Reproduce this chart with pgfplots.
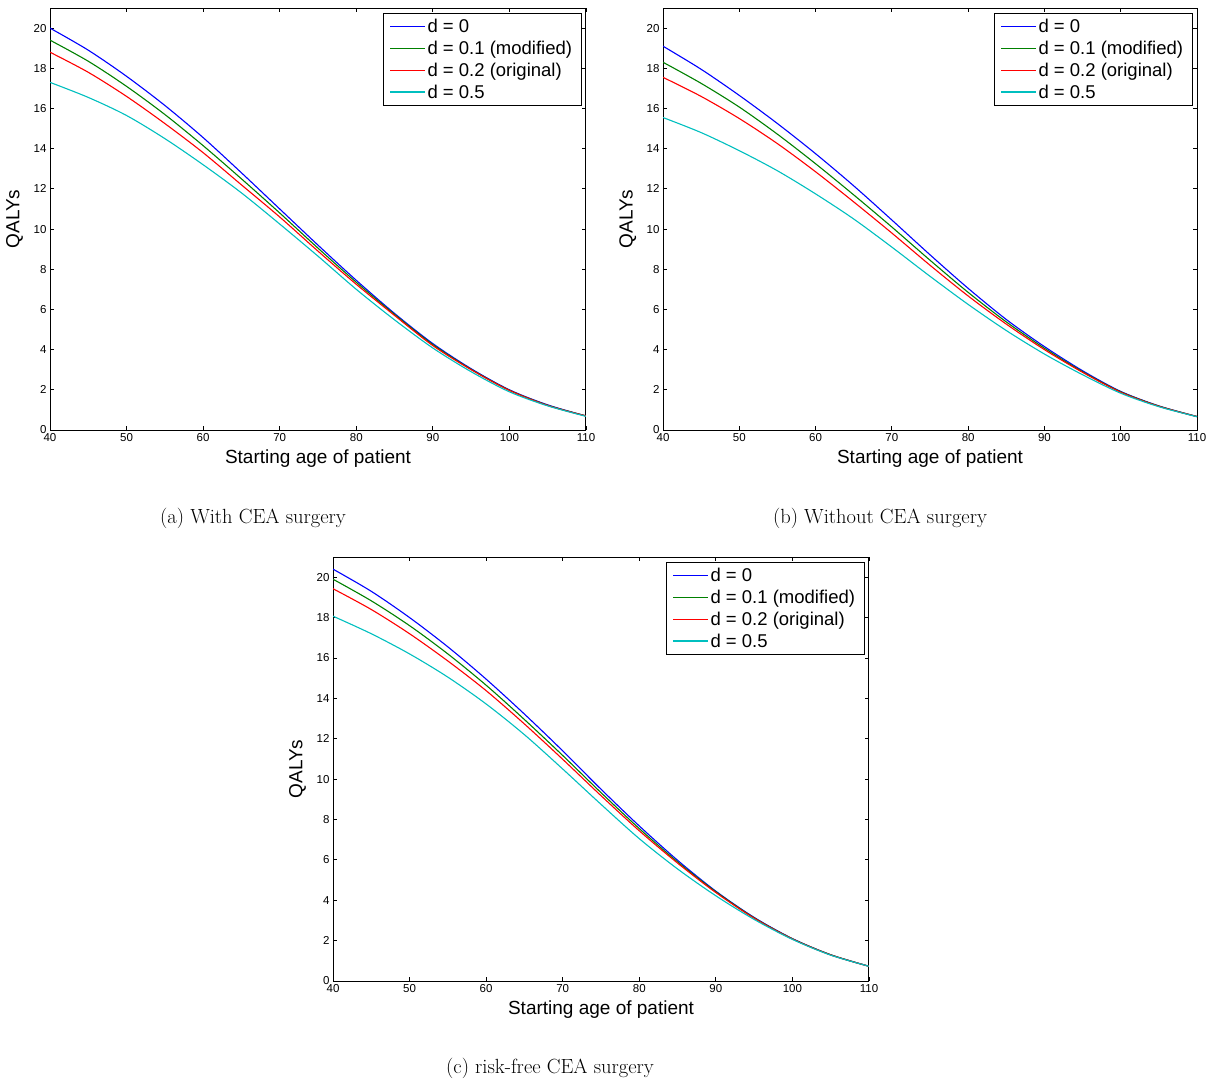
\documentclass[border=0pt]{standalone}
\usepackage{fontspec}
\usepackage{pgfplots}
\usepackage{pgfplotstable}
\pgfplotsset{compat=1.18}
\newfontfamily\arial{Liberation Sans}
\definecolor{mblue}{rgb}{0,0,1}
\definecolor{mgreen}{rgb}{0,0.5,0}
\definecolor{mred}{rgb}{1,0,0}
\definecolor{mcyan}{rgb}{0,0.75,0.75}

\pgfplotstableread{
x d0 d1 d2 d5
40 20.0 19.4 18.8 17.3
45 18.9 18.35 17.8 16.55
50 17.6 17.1 16.6 15.65
55 16.15 15.7 15.25 14.5
60 14.55 14.15 13.8 13.2
65 12.8 12.5 12.2 11.8
70 11.0 10.8 10.6 10.25
75 9.2 9.05 8.9 8.65
80 7.45 7.35 7.25 7.0
85 5.8 5.75 5.7 5.48
90 4.3 4.25 4.2 4.08
95 3.05 3.02 3.0 2.9
100 2.0 1.98 1.97 1.9
105 1.25 1.23 1.22 1.2
110 0.7 0.7 0.7 0.68
}\tabA

\pgfplotstableread{
x d0 d1 d2 d5
40 19.1 18.3 17.55 15.55
45 17.95 17.25 16.6 14.8
50 16.65 16.07 15.5 13.9
55 15.25 14.72 14.25 12.9
60 13.75 13.25 12.85 11.75
65 12.15 11.7 11.35 10.5
70 10.45 10.1 9.8 9.1
75 8.72 8.45 8.2 7.65
80 7.05 6.85 6.67 6.25
85 5.5 5.38 5.27 4.95
90 4.15 4.07 4.0 3.78
95 2.95 2.9 2.87 2.75
100 1.92 1.9 1.88 1.83
105 1.2 1.19 1.18 1.16
110 0.67 0.67 0.67 0.66
}\tabB

\pgfplotstableread{
x d0 d1 d2 d5
40 20.4 19.9 19.43 18.07
45 19.3 18.83 18.4 17.2
50 18.0 17.6 17.2 16.2
55 16.55 16.2 15.85 15.05
60 14.95 14.65 14.38 13.72
65 13.22 12.95 12.73 12.2
70 11.4 11.17 10.98 10.5
75 9.5 9.33 9.18 8.75
80 7.68 7.55 7.44 7.05
85 5.98 5.9 5.84 5.55
90 4.45 4.42 4.38 4.22
95 3.15 3.13 3.11 3.05
100 2.1 2.09 2.08 2.06
105 1.3 1.3 1.29 1.28
110 0.73 0.73 0.73 0.73
}\tabC

\pgfplotsset{
  legend image code/.code={\fill[#1, draw=none] (0pt,-0.75pt) rectangle (35pt,0.75pt);},
  mstyle/.style={
    scale only axis,
    anchor=south west,
    xmin=40, xmax=110, ymin=0, ymax=21,
    xtick={40,50,...,110}, ytick={0,2,...,20},
    tick align=inside,
    major tick length=4pt,
    axis line style={line width=1pt},
    every tick/.style={black, line width=0.8pt},
    tick label style={font=\fontsize{11.5}{13}\arial},
    /pgf/number format/assume math mode=true,
    xlabel={Starting age of patient},
    ylabel={QALYs},
    label style={font=\fontsize{19}{22}\arial},
    xlabel style={at={(axis description cs:0.5,-0.068)}, anchor=center},
    ylabel style={at={(axis description cs:-0.066,0.5)}, anchor=center},
    legend cell align=left,
    legend style={
      at={(rel axis cs:0.9925,0.988)}, anchor=north east,
      font=\fontsize{18.5}{20}\arial,
      draw=black, line width=0.9pt,
      row sep=7pt, inner xsep=7pt, inner ysep=5.5pt,
      nodes={inner xsep=2.5pt, inner ysep=0pt},
    },
  },
  pl/.style={line width=1.1pt, smooth},
}

\begin{document}
\begin{tikzpicture}
\path[use as bounding box] (0pt,0pt) rectangle (1216pt,-1085pt);

\begin{axis}[mstyle, at={(50pt,-430pt)}, width=536pt, height=422pt]
\addplot[pl, mblue] table[x=x,y=d0]{\tabA};
\addplot[pl, mgreen] table[x=x,y=d1]{\tabA};
\addplot[pl, mred] table[x=x,y=d2]{\tabA};
\addplot[pl, mcyan] table[x=x,y=d5]{\tabA};
\legend{d = 0, d = 0.1 (modified), d = 0.2 (original), d = 0.5}
\end{axis}

\begin{axis}[mstyle, at={(663pt,-430pt)}, width=534pt, height=422pt]
\addplot[pl, mblue] table[x=x,y=d0]{\tabB};
\addplot[pl, mgreen] table[x=x,y=d1]{\tabB};
\addplot[pl, mred] table[x=x,y=d2]{\tabB};
\addplot[pl, mcyan] table[x=x,y=d5]{\tabB};
\legend{d = 0, d = 0.1 (modified), d = 0.2 (original), d = 0.5}
\end{axis}

\begin{axis}[mstyle, at={(333pt,-981pt)}, width=536pt, height=424pt]
\addplot[pl, mblue] table[x=x,y=d0]{\tabC};
\addplot[pl, mgreen] table[x=x,y=d1]{\tabC};
\addplot[pl, mred] table[x=x,y=d2]{\tabC};
\addplot[pl, mcyan] table[x=x,y=d5]{\tabC};
\legend{d = 0, d = 0.1 (modified), d = 0.2 (original), d = 0.5}
\end{axis}

\node[font=\fontsize{20.5}{24}\selectfont] at (253pt,-518pt) {(a) With CEA surgery};
\node[font=\fontsize{20.5}{24}\selectfont] at (880pt,-518pt) {(b) Without CEA surgery};
\node[font=\fontsize{20.5}{24}\selectfont] at (550pt,-1068pt) {(c) risk-free CEA surgery};
\end{tikzpicture}
\end{document}
